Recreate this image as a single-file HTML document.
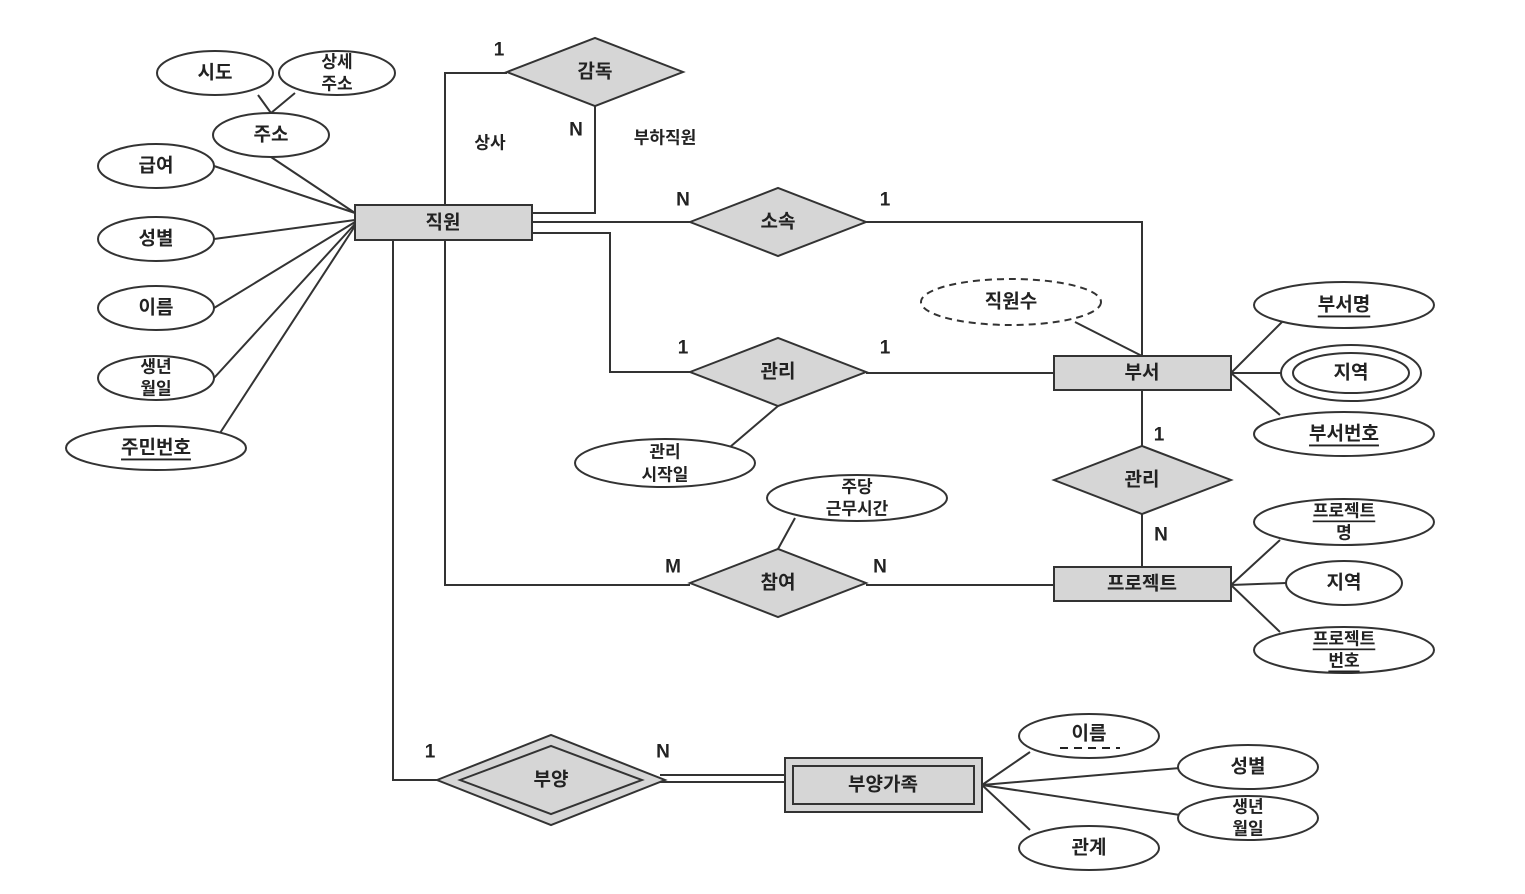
<!DOCTYPE html>
<html><head><meta charset="utf-8"><style>
html,body{margin:0;padding:0;background:#fff;}
svg{display:block;}
text{font-family:"Liberation Sans","Noto Sans CJK KR",sans-serif;font-size:19px;font-weight:bold;fill:#222;text-anchor:middle;dominant-baseline:central;}
.l{stroke:#333;stroke-width:2;fill:none;}
.e{stroke:#333;stroke-width:2;fill:#fff;}
.g{stroke:#333;stroke-width:2;fill:#d6d6d6;}
.s{font-size:17px;}
</style></head><body>
<svg width="1525" height="894" viewBox="0 0 1525 894">
<!-- lines -->
<g class="l">
<path d="M258 95 L271 113 M295 93 L271 113"/>
<path d="M271 157 L355 213"/>
<path d="M214 166 L355 213 M214 239 L355 220 M214 308 L355 222 M214 378 L355 224 M220 433 L355 226"/>
<path d="M445 205 L445 73 L507 73"/>
<path d="M532 213 L595 213 L595 106"/>
<path d="M532 222 L690 222 M866 222 L1142 222 L1142 356"/>
<path d="M532 233 L610 233 L610 372 L690 372 M866 373 L1054 373"/>
<path d="M730 447 L778 406"/>
<path d="M1075 322 L1142 356"/>
<path d="M1231 373 L1282 322 M1231 373 L1282 373 M1231 373 L1280 415"/>
<path d="M1142 390 L1142 446 M1142 514 L1142 567"/>
<path d="M445 240 L445 585 L690 585 M866 585 L1054 585"/>
<path d="M778 549 L795 518"/>
<path d="M1231 585 L1280 540 M1231 585 L1286 583 M1231 585 L1280 632"/>
<path d="M393 240 L393 780 L437 780"/>
<path d="M660 775 L785 775 M660 782 L785 782"/>
<path d="M982 785 L1030 752 M982 785 L1180 768 M982 785 L1180 815 M982 785 L1030 830"/>
</g>
<!-- entities -->
<rect class="g" x="355" y="205" width="177" height="35"/><text x="443" y="223">직원</text>
<rect class="g" x="1054" y="356" width="177" height="34"/><text x="1142" y="373">부서</text>
<rect class="g" x="1054" y="567" width="177" height="34"/><text x="1142" y="584">프로젝트</text>
<rect class="g" x="785" y="758" width="197" height="54"/><rect class="g" x="793" y="766" width="181" height="38"/><text x="883" y="785">부양가족</text>
<!-- relationships -->
<polygon class="g" points="507,72 595,38 683,72 595,106"/><text x="595" y="72">감독</text>
<polygon class="g" points="690,222 778,188 866,222 778,256"/><text x="778" y="222">소속</text>
<polygon class="g" points="690,372 778,338 866,372 778,406"/><text x="778" y="372">관리</text>
<polygon class="g" points="690,583 778,549 866,583 778,617"/><text x="778" y="583">참여</text>
<polygon class="g" points="1054,480 1142,446 1231,480 1142,514"/><text x="1142" y="480">관리</text>
<polygon class="g" points="437,780 551,735 665,780 551,825"/><polygon class="g" points="460,780 551,746 642,780 551,814"/><text x="551" y="780">부양</text>
<!-- attributes -->
<ellipse class="e" cx="215" cy="73" rx="58" ry="22"/><text x="215" y="73">시도</text>
<ellipse class="e" cx="337" cy="73" rx="58" ry="22"/><text x="337" y="62" class="s">상세</text><text x="337" y="84" class="s">주소</text>
<ellipse class="e" cx="271" cy="135" rx="58" ry="22"/><text x="271" y="135">주소</text>
<ellipse class="e" cx="156" cy="166" rx="58" ry="22"/><text x="156" y="166">급여</text>
<ellipse class="e" cx="156" cy="239" rx="58" ry="22"/><text x="156" y="239">성별</text>
<ellipse class="e" cx="156" cy="308" rx="58" ry="22"/><text x="156" y="308">이름</text>
<ellipse class="e" cx="156" cy="378" rx="58" ry="22"/><text x="156" y="367" class="s">생년</text><text x="156" y="389" class="s">월일</text>
<ellipse class="e" cx="156" cy="448" rx="90" ry="22"/><text x="156" y="448" text-decoration="underline">주민번호</text>
<ellipse class="e" cx="1011" cy="302" rx="90" ry="23" stroke-dasharray="7,5"/><text x="1011" y="302">직원수</text>
<ellipse class="e" cx="1344" cy="305" rx="90" ry="23"/><text x="1344" y="305" text-decoration="underline">부서명</text>
<ellipse class="e" cx="1351" cy="373" rx="70" ry="28"/><ellipse class="e" cx="1351" cy="373" rx="58" ry="20"/><text x="1351" y="373">지역</text>
<ellipse class="e" cx="1344" cy="434" rx="90" ry="22"/><text x="1344" y="434" text-decoration="underline">부서번호</text>
<ellipse class="e" cx="665" cy="463" rx="90" ry="24"/><text x="665" y="452" class="s">관리</text><text x="665" y="475" class="s">시작일</text>
<ellipse class="e" cx="857" cy="498" rx="90" ry="23"/><text x="857" y="487" class="s">주당</text><text x="857" y="509" class="s">근무시간</text>
<ellipse class="e" cx="1344" cy="522" rx="90" ry="23"/><text x="1344" y="511" class="s" text-decoration="underline">프로젝트</text><text x="1344" y="533" class="s">명</text>
<ellipse class="e" cx="1344" cy="583" rx="58" ry="22"/><text x="1344" y="583">지역</text>
<ellipse class="e" cx="1344" cy="650" rx="90" ry="23"/><text x="1344" y="639" class="s" text-decoration="underline">프로젝트</text><text x="1344" y="661" class="s" text-decoration="underline">번호</text>
<ellipse class="e" cx="1089" cy="736" rx="70" ry="22"/><text x="1089" y="734">이름</text><path d="M1060 748 H1120" stroke="#222" stroke-width="2" stroke-dasharray="8,6"/>
<ellipse class="e" cx="1248" cy="767" rx="70" ry="22"/><text x="1248" y="767">성별</text>
<ellipse class="e" cx="1248" cy="818" rx="70" ry="22"/><text x="1248" y="807" class="s">생년</text><text x="1248" y="829" class="s">월일</text>
<ellipse class="e" cx="1089" cy="848" rx="70" ry="22"/><text x="1089" y="848">관계</text>
<!-- cardinalities -->
<text x="499" y="50">1</text><text x="576" y="130">N</text>
<text x="490" y="143" class="s">상사</text><text x="665" y="138" class="s">부하직원</text>
<text x="683" y="200">N</text><text x="885" y="200">1</text>
<text x="683" y="348">1</text><text x="885" y="348">1</text>
<text x="1159" y="435">1</text><text x="1161" y="535">N</text>
<text x="673" y="567">M</text><text x="880" y="567">N</text>
<text x="430" y="752">1</text><text x="663" y="752">N</text>
</svg>
</body></html>
